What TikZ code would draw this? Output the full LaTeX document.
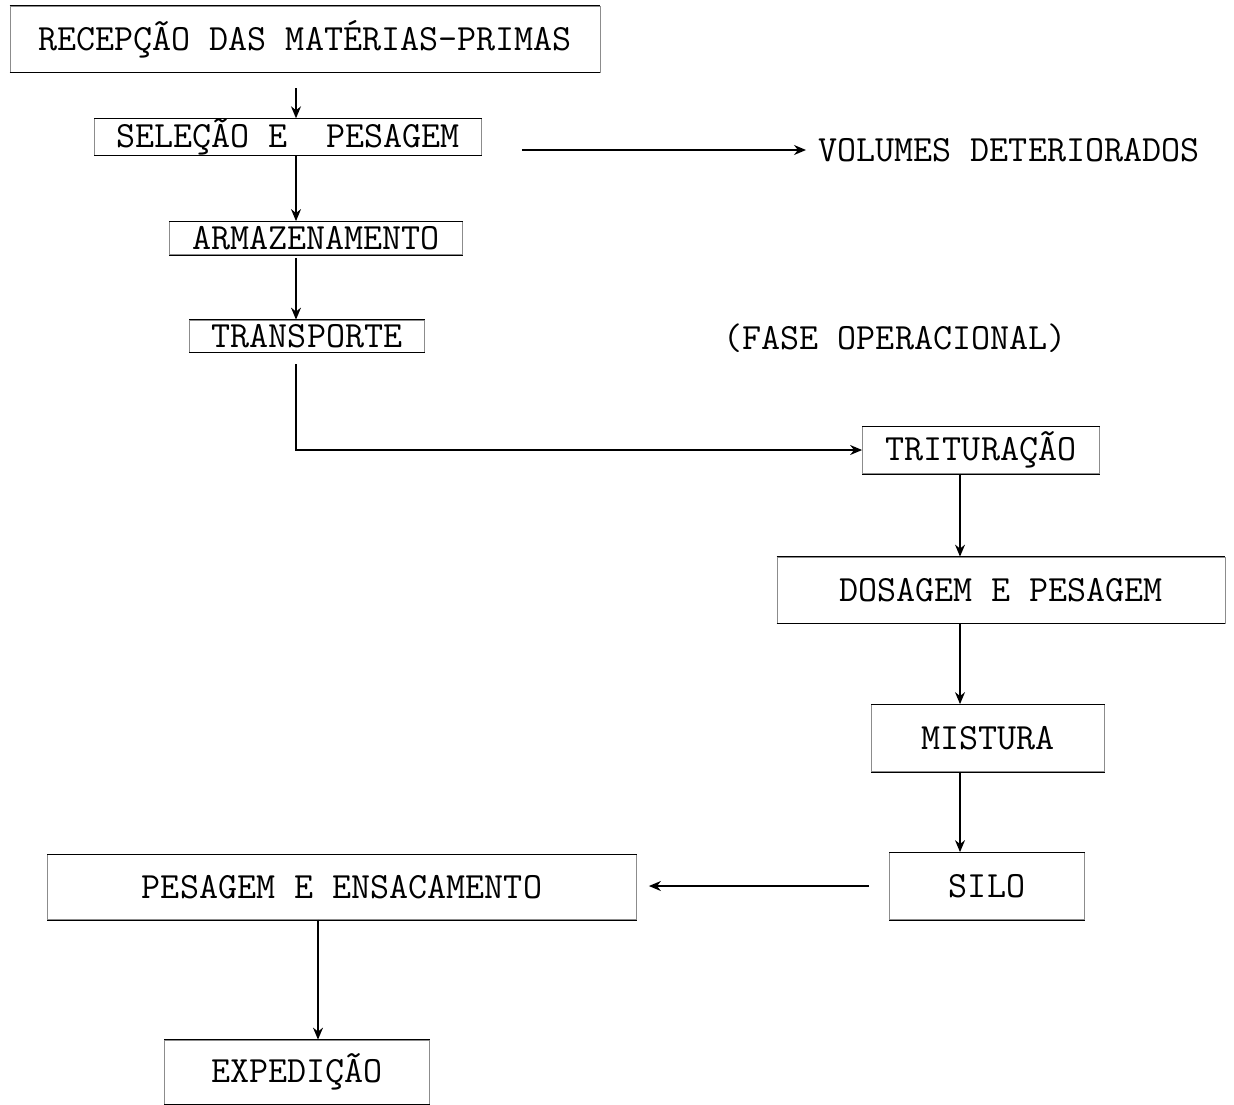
\documentclass[tikz,border=0pt]{standalone}
\usepackage{tikz}
\usetikzlibrary{arrows.meta,positioning,calc}

\begin{document}
\begin{tikzpicture}[
    x=0.5pt, y=-0.5pt,
    font=\ttfamily\fontsize{18.5}{22}\selectfont,
    stage/.style={draw=black!45, line width=0.4pt, inner sep=0pt,
        append after command={[line width=1pt]
            (\tikzlastnode.north west) edge[-] (\tikzlastnode.north east)
            (\tikzlastnode.south west) edge[-] (\tikzlastnode.south east)}},
    flow/.style={-{Stealth[length=6pt,width=5pt]}, line width=0.7pt}
]
\useasboundingbox (0,0) rectangle (1234,1104);

% fluxo principal
\node[stage, minimum width=295pt, minimum height=33pt] (recepcao) at (305,39) {RECEPÇÃO DAS MATÉRIAS-PRIMAS};
\node[stage, minimum width=193.5pt, minimum height=17.5pt] (selecao) at (288,137) {SELEÇÃO E~~PESAGEM};
\node[stage, minimum width=146.5pt, minimum height=16.5pt] (armaz) at (316,238) {ARMAZENAMENTO};
\node[stage, minimum width=117.5pt, minimum height=16pt] (transp) at (307,336) {TRANSPORTE};
\node[stage, minimum width=118.5pt, minimum height=23.5pt] (tritur) at (981,450) {TRITURAÇÃO};
\node[stage, minimum width=224pt, minimum height=33pt] (dosagem) at (1001,590) {DOSAGEM E PESAGEM};
\node[stage, minimum width=116.5pt, minimum height=33.5pt] (mistura) at (988,738) {MISTURA};
\node[stage, minimum width=97.5pt, minimum height=33.5pt] (silo) at (987,886) {SILO};
\node[stage, minimum width=294.5pt, minimum height=32.5pt] (pesagem) at (342,887) {PESAGEM E ENSACAMENTO};
\node[stage, minimum width=132.5pt, minimum height=32pt] (expedicao) at (297,1072) {EXPEDIÇÃO};

\node[inner sep=0pt, anchor=west] (volumes) at (818,150) {VOLUMES DETERIORADOS};
\node[inner sep=0pt] (fase) at (895,338) {(FASE OPERACIONAL)};

\coordinate (eixoA) at (296,0);
\coordinate (eixoB) at (960,0);
\coordinate (eixoC) at (318,0);

\draw[flow, shorten <=8pt] (recepcao.south -| eixoA) -- (selecao.north -| eixoA);
\draw[flow] (selecao.south -| eixoA) -- (armaz.north -| eixoA);
\draw[flow, shorten <=1.5pt] (armaz.south -| eixoA) -- (transp.north -| eixoA);
\draw[flow, shorten <=6pt] (transp.south -| eixoA) |- (tritur.west);
\draw[flow, shorten <=20pt, shorten >=6pt] (selecao.east |- volumes.west) -- (volumes.west);
\draw[flow] (tritur.south -| eixoB) -- (dosagem.north -| eixoB);
\draw[flow] (dosagem.south -| eixoB) -- (mistura.north -| eixoB);
\draw[flow] (mistura.south -| eixoB) -- (silo.north -| eixoB);
\draw[flow, shorten <=10pt, shorten >=6pt] (silo.west) -- (silo.west -| pesagem.east);
\draw[flow] (pesagem.south -| eixoC) -- (expedicao.north -| eixoC);
\end{tikzpicture}
\end{document}
